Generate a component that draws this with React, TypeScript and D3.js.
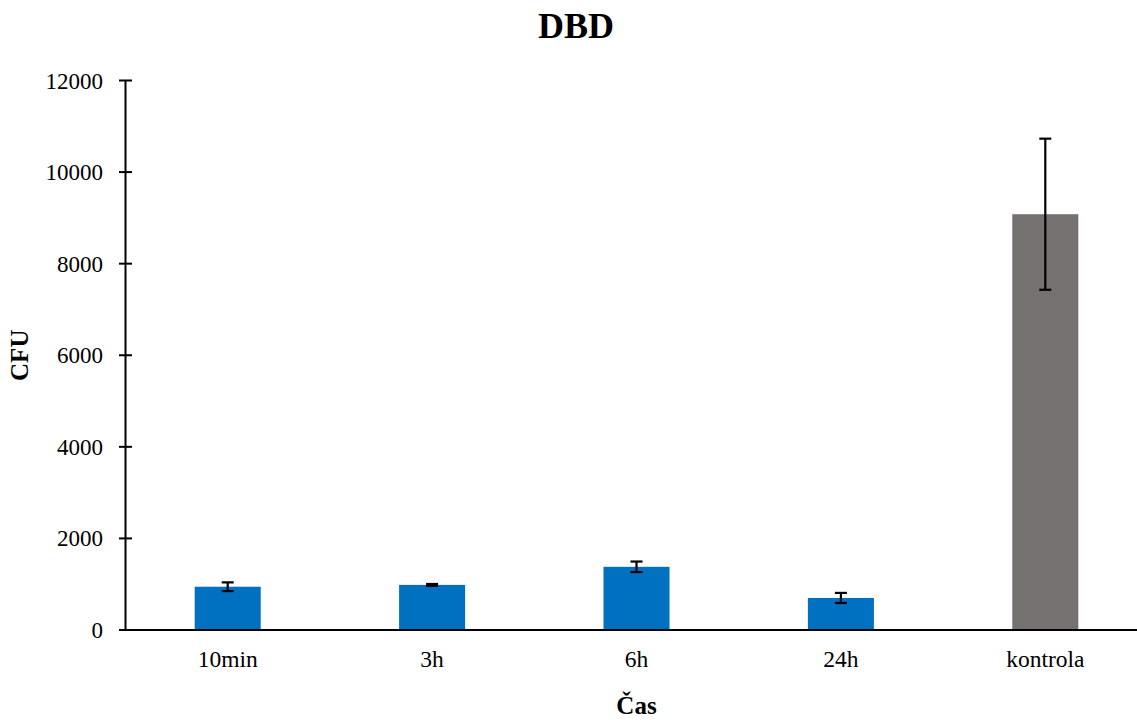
import React from "react";
import * as d3 from "d3";

const categories: string[] = ["10min", "3h", "6h", "24h", "kontrola"];
const values: number[] = [945, 985, 1380, 700, 9080];
const errors: number[] = [95, 20, 115, 110, 1650];
const barColors: string[] = ["#0070C0", "#0070C0", "#0070C0", "#0070C0", "#767171"];
const yTicks: number[] = [0, 2000, 4000, 6000, 8000, 10000, 12000];

const W = 1137;
const H = 720;
const left = 125.5;
const right = 1147.5;
const top = 80.5;
const bottom = 630;

export default function App() {
  const x = d3.scaleBand<string>().domain(categories).range([left, right]).paddingInner(0).paddingOuter(0);
  const y = d3.scaleLinear().domain([0, 12000]).range([bottom, top]);
  const bw = x.bandwidth() * 0.323;
  const font = "'Liberation Serif', 'Times New Roman', serif";

  return (
    <svg width={W} height={H} style={{ position: "absolute", left: 0, top: 0, background: "#fff" }} fontFamily={font}>
      <rect x={0} y={0} width={W} height={H} fill="#fff" />
      <text x={576} y={38} textAnchor="middle" fontSize={36} fontWeight="bold" fill="#000">DBD</text>

      {categories.map((c, i) => {
        const cx = (x(c) as number) + x.bandwidth() / 2;
        return (
          <g key={c}>
            <rect x={cx - bw / 2} y={y(values[i])} width={bw} height={y(0) - y(values[i])} fill={barColors[i]} />
          </g>
        );
      })}

      {/* y axis */}
      <line x1={left} x2={left} y1={y(12000)} y2={y(0)} stroke="#000" strokeWidth={2} />
      {yTicks.map((t) => (
        <g key={t}>
          <line x1={left - 6.5} x2={left + 6.5} y1={y(t)} y2={y(t)} stroke="#000" strokeWidth={2} />
          <text x={103} y={y(t)} dy="0.35em" textAnchor="end" fontSize={23} fill="#000">{t}</text>
        </g>
      ))}

      {/* x axis */}
      <line x1={left - 6.5} x2={W} y1={y(0)} y2={y(0)} stroke="#000" strokeWidth={2} />

      {categories.map((c, i) => {
        const cx = (x(c) as number) + x.bandwidth() / 2;
        const hi = y(values[i] + errors[i]);
        const lo = y(values[i] - errors[i]);
        return (
          <g key={"e" + c} stroke="#000" strokeWidth={2.2}>
            <line x1={cx} x2={cx} y1={hi} y2={lo} />
            <line x1={cx - 6} x2={cx + 6} y1={hi} y2={hi} />
            <line x1={cx - 6} x2={cx + 6} y1={lo} y2={lo} />
          </g>
        );
      })}

      {categories.map((c) => {
        const cx = (x(c) as number) + x.bandwidth() / 2;
        return (
          <text key={"l" + c} x={cx} y={667} textAnchor="middle" fontSize={23.5} fill="#000">{c}</text>
        );
      })}

      <text x={(left + right) / 2} y={714} textAnchor="middle" fontSize={25} fontWeight="bold" fill="#000">Čas</text>
      <text transform={`translate(28, ${(top + bottom) / 2}) rotate(-90)`} textAnchor="middle" fontSize={25} fontWeight="bold" fill="#000">CFU</text>
    </svg>
  );
}
